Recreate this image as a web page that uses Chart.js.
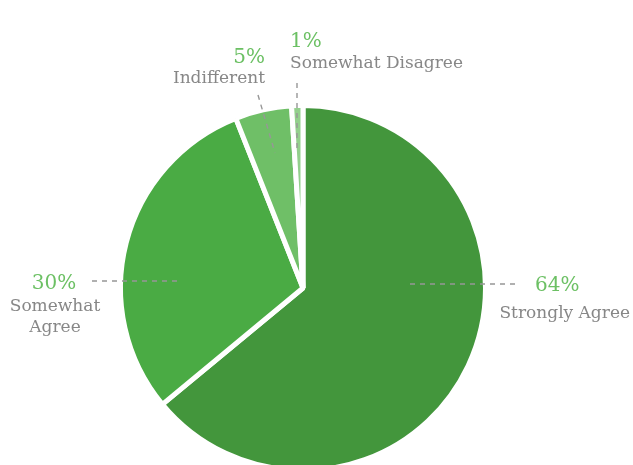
<!DOCTYPE html>
<html>
<head>
<meta charset="utf-8">
<script src="https://cdn.jsdelivr.net/npm/chart.js@4.4.1/dist/chart.umd.min.js"></script>
<style>
  html, body { margin: 0; padding: 0; background: #fff; overflow: hidden; }
  #wrap { position: relative; width: 633px; height: 480px; }
</style>
</head>
<body>
<div id="wrap"><canvas id="chartSurvey"></canvas></div>
<script>
// survey answers, clockwise from 12 o'clock
const answerLabels = ["Strongly Agree", "Somewhat Agree", "Indifferent", "Somewhat Disagree"];
const answerShares = [64, 30, 5, 1];
const sliceColors = ["#43963c", "#4aab44", "#6fbf67", "#93cf8c"];

// label placement, relative to the pie centre (dx, dy in px)
// line: leader from [x1,y1] to [x2,y2]; pct/name: text anchor + alignment
const labelLayout = [
  { line: [107, -4, 217, -4], pct: [232, -2, "left"], name: [327, 26, "right"], lines: ["Strongly Agree"] },
  { line: [-211, -7, -126, -7], pct: [-249, -4, "center"], name: [-248, 19, "center"], lines: ["Somewhat", "Agree"] },
  { line: [-45, -193, -28, -135], pct: [-38, -230, "right"], name: [-38, -209, "right"], lines: ["Indifferent"] },
  { line: [-6, -205, -6, -135], pct: [-13, -246, "left"], name: [-13, -224, "left"], lines: ["Somewhat Disagree"] },
];

const GRAY = "#878787";
const GREEN = "#6cc064";
const FONT = "'DejaVu Serif', 'Liberation Serif', serif";

const pieLabels = {
  id: "pieLabels",
  afterDatasetsDraw(chart) {
    const arc = chart.getDatasetMeta(0).data[0];
    if (!arc) return;
    const { x: cx, y: cy } = arc.getProps(["x", "y"], true);
    const ctx = chart.ctx;
    ctx.save();

    labelLayout.forEach((lay, i) => {
      // dashed leader line
      const [x1, y1, x2, y2] = lay.line;
      ctx.setLineDash([5, 5]);
      ctx.strokeStyle = "#979797";
      ctx.lineWidth = 1.4;
      ctx.beginPath();
      ctx.moveTo(cx + x1, cy + y1);
      ctx.lineTo(cx + x2, cy + y2);
      ctx.stroke();
      ctx.setLineDash([]);

      // percentage
      ctx.textBaseline = "middle";
      ctx.fillStyle = GREEN;
      ctx.font = `20px ${FONT}`;
      ctx.textAlign = lay.pct[2];
      ctx.fillText(`${answerShares[i]}%`, cx + lay.pct[0], cy + lay.pct[1]);

      // category name
      ctx.fillStyle = GRAY;
      ctx.font = `17px ${FONT}`;
      ctx.textAlign = lay.name[2];
      lay.lines.forEach((t, k) => {
        ctx.fillText(t, cx + lay.name[0], cy + lay.name[1] + k * 21);
      });
    });

    ctx.restore();
  },
};

new Chart(document.getElementById("chartSurvey"), {
  type: "pie",
  data: {
    labels: answerLabels,
    datasets: [
      {
        data: answerShares,
        backgroundColor: sliceColors,
        borderColor: "#ffffff",
        borderWidth: 5,
        hoverOffset: 0,
      },
    ],
  },
  options: {
    responsive: true,
    maintainAspectRatio: false,
    animation: false,
    layout: { padding: { top: 103, bottom: 7, left: 0, right: 27 } },
    plugins: {
      legend: { display: false },
      tooltip: { enabled: false },
    },
  },
  plugins: [pieLabels],
});
</script>
</body>
</html>
